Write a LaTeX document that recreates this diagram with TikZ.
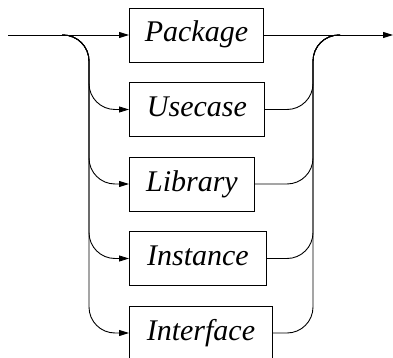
\documentclass[tikz,border=0pt]{standalone}
\usepackage{fontspec}
\newfontfamily\railfont{Liberation Serif Italic}
\usetikzlibrary{arrows.meta}
\begin{document}
\begin{tikzpicture}[x=1pt,y=-1pt,
  rail/.style={line width=0.9pt, rounded corners=26pt},
  flow/.style={rail, -{Triangle[length=10pt,width=6pt]}},
  term/.style={draw, line width=0.9pt, anchor=west, minimum height=54pt,
    text height=20pt, text depth=6pt, inner xsep=0pt,
    font=\railfont\fontsize{30}{30}\selectfont}]
  \useasboundingbox (0,0) rectangle (393,358);

  % terminal boxes
  \node[term, minimum width=134pt] (p) at (129,35)    {Package};
  \node[term, minimum width=135pt] (u) at (129,109.5) {Usecase};
  \node[term, minimum width=125pt] (l) at (129,184)   {Library};
  \node[term, minimum width=137pt] (i) at (129,258.5) {Instance};
  \node[term, minimum width=143pt] (f) at (129,333)   {Interface};

  % rail coordinates
  \coordinate (in)    at (8,35);
  \coordinate (split) at (62,35);
  \coordinate (lcol)  at (89,35);
  \coordinate (rcol)  at (313,35);
  \coordinate (join)  at (340,35);
  \coordinate (out)   at (393,35);

  % entry and straight-through path
  \draw[flow] (in) -- (p.west);
  \draw[flow] (p.east) -- (out);

  % branches to the alternatives
  \foreach \n in {u,l,i,f}{
    \draw[flow] (split) -| (lcol |- \n.west) -- (\n.west);
    \draw[rail] (\n.east) -- (rcol |- \n.east) |- (join);
  }
\end{tikzpicture}
\end{document}
